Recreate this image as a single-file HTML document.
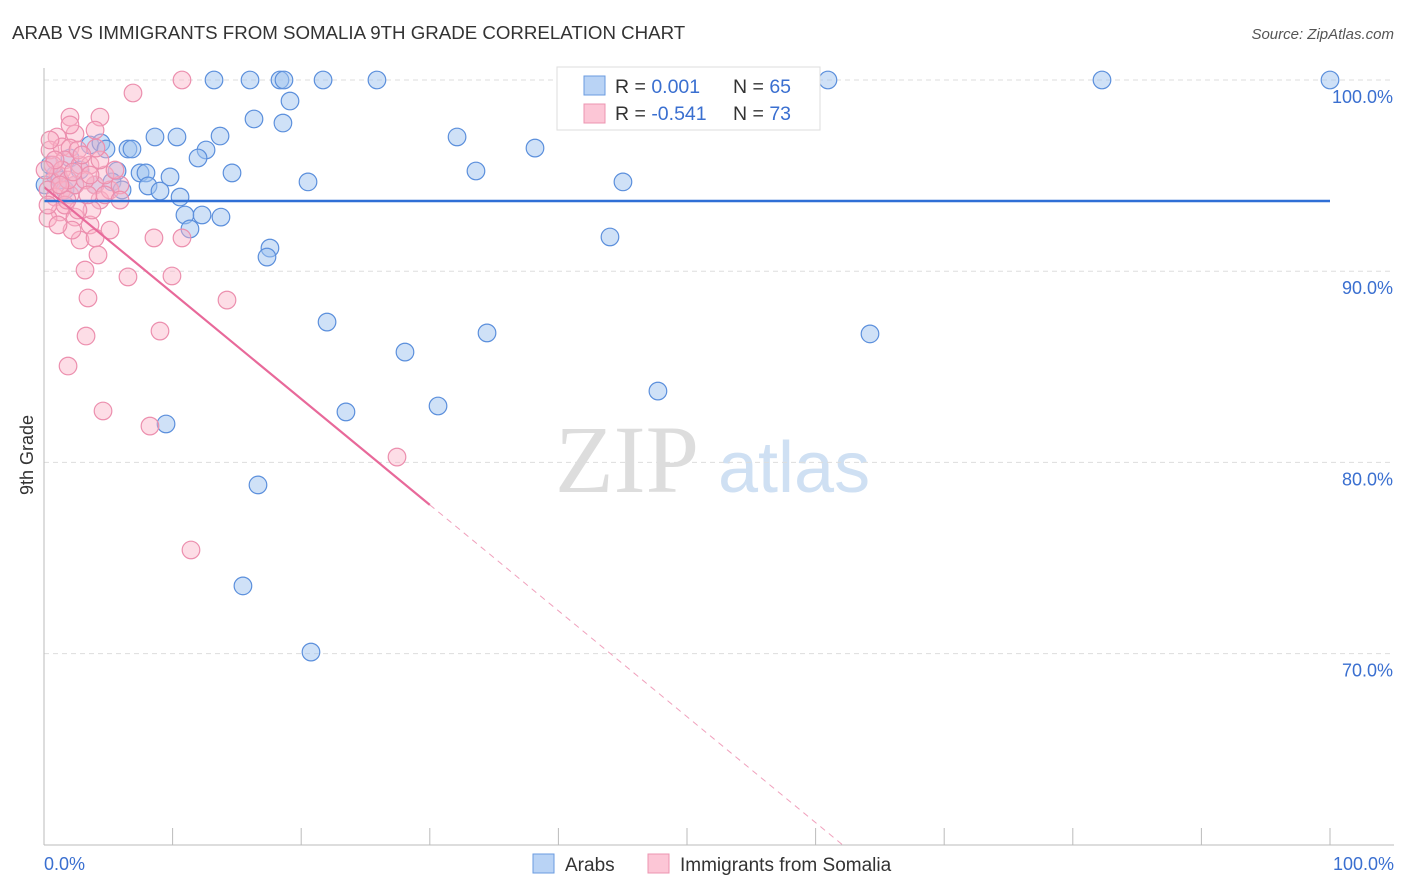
<!DOCTYPE html>
<html><head><meta charset="utf-8"><style>
body{margin:0;background:#fff;font-family:"Liberation Sans",sans-serif;}
svg{display:block}
</style></head><body>
<svg id="c" width="1406" height="892">
<text x="12" y="39" font-size="18.7" fill="#333">ARAB VS IMMIGRANTS FROM SOMALIA 9TH GRADE CORRELATION CHART</text>
<text x="1394" y="39" font-size="15" fill="#555" font-style="italic" text-anchor="end">Source: ZipAtlas.com</text>
<text x="33" y="455" font-size="18" fill="#333" transform="rotate(-90 33 455)" text-anchor="middle">9th Grade</text>
<text x="555" y="492" font-size="96" fill="#ddd" font-family="Liberation Serif">ZIP</text>
<text x="718" y="492" font-size="72" fill="#cfe0f3">atlas</text>
<g id="grid"></g><g id="pts"></g><g id="trend"></g>
<line x1="44" y1="68" x2="44" y2="845" stroke="#bbb"/>
<line x1="44" y1="845" x2="1394" y2="845" stroke="#bbb"/>
<text x="44" y="870" font-size="18" fill="#3a6fd0">0.0%</text>
<text x="1394" y="870" font-size="18" fill="#3a6fd0" text-anchor="end">100.0%</text>
<g>
<rect x="557" y="67" width="263" height="63" fill="#fff" stroke="#ddd"/>
<rect x="584" y="76" width="21" height="19" fill="#b9d3f5" stroke="#6a9be0"/>
<rect x="584" y="104" width="21" height="19" fill="#fcc6d6" stroke="#ec94b0"/>
<text x="615" y="93" font-size="19.5" fill="#333">R = <tspan fill="#3a6fd0">0.001</tspan><tspan x="733">N = </tspan><tspan fill="#3a6fd0">65</tspan></text>
<text x="615" y="120" font-size="19.5" fill="#333">R = <tspan fill="#3a6fd0">-0.541</tspan><tspan x="733">N = </tspan><tspan fill="#3a6fd0">73</tspan></text>
</g>
<g>
<rect x="533" y="854" width="21" height="19" fill="#b9d3f5" stroke="#6a9be0"/>
<text x="565" y="871" font-size="19" fill="#333">Arabs</text>
<rect x="648" y="854" width="21" height="19" fill="#fcc6d6" stroke="#ec94b0"/>
<text x="680" y="871" font-size="19" fill="#333">Immigrants from Somalia</text>
</g>
</svg>
<script>
const yTicks=[100,90,80,70];
const xTicks=[0,10,20,30,40,50,60,70,80,90,100];
const arabPx=[[214,80],[250,80],[280,80],[284,80],[323,80],[377,80],[650,80],[828,80],[1102,80],[1330,80],[290,101],[254,119],[283,123],[155,137],[177,137],[220,136],[457,137],[535,148],[90,145],[101,143],[106,149],[128,149],[132,149],[206,150],[198,158],[70,158],[232,173],[140,173],[146,173],[170,177],[117,171],[476,171],[308,182],[623,182],[112,182],[148,186],[122,190],[160,191],[180,197],[55,175],[60,180],[50,165],[185,215],[202,215],[221,217],[190,229],[270,248],[267,257],[610,237],[327,322],[487,333],[870,334],[405,352],[658,391],[438,406],[346,412],[166,424],[258,485],[243,586],[311,652],[65,190],[75,185],[95,185],[80,170],[45,185]];
const somPx=[[182,80],[133,93],[70,117],[100,117],[57,137],[75,134],[50,150],[62,147],[70,148],[65,160],[80,165],[90,165],[58,175],[52,182],[48,190],[55,197],[62,190],[70,195],[75,185],[95,185],[100,200],[60,212],[75,217],[90,225],[80,240],[95,238],[110,230],[48,218],[85,270],[98,255],[128,277],[154,238],[182,238],[172,276],[88,298],[227,300],[86,336],[160,331],[68,366],[103,411],[150,426],[397,457],[191,550],[110,190],[120,185],[72,230],[65,205],[53,165],[85,180],[92,210],[105,175],[62,170],[78,150],[55,160],[45,170],[68,180],[88,195],[100,160],[115,170],[58,225],[78,210],[50,140],[96,148],[67,200],[82,155],[73,172],[60,185],[90,175],[105,195],[120,200],[70,125],[95,130],[48,205]];
// convert read positions into data values (percent)
const arabX=arabPx.map(p=>+((p[0]-44)/12.86).toFixed(2));
const arabY=arabPx.map(p=>+(100-(p[1]-80)/19.12).toFixed(2));
const somX=somPx.map(p=>+((p[0]-44)/12.86).toFixed(2));
const somY=somPx.map(p=>+(100-(p[1]-80)/19.12).toFixed(2));
const arabTrend=[93.67,93.67];
const somTrend=[94.4,39.0];
const X=v=>44+v*12.86, Y=v=>80+(100-v)*19.12;
const NS="http://www.w3.org/2000/svg";
function mk(t,a,parent){const e=document.createElementNS(NS,t);for(const k in a)e.setAttribute(k,a[k]);parent.appendChild(e);return e;}
const g=document.getElementById('grid');
yTicks.forEach(v=>{
 const l=mk('line',{x1:44,x2:1394,y1:Y(v),y2:Y(v),stroke:'#ddd','stroke-dasharray':'5,4'},g);
 
 
 const t=mk('text',{x:1393,y:Y(v)+23,'font-size':18,fill:'#3a6fd0','text-anchor':'end'},g);
 t.textContent=v.toFixed(1)+'%';
 
 
});
xTicks.forEach(v=>{
 const l=mk('line',{x1:X(v),x2:X(v),y1:828,y2:845,stroke:'#bbb'},g);
 
 
});
const p=document.getElementById('pts');
arabX.forEach((x,i)=>{
 const c=mk('circle',{cx:X(x),cy:Y(arabY[i]),r:8.8,fill:'rgba(160,196,240,0.5)',stroke:'#5b8fdc','stroke-width':1.2},p);
 
 
});
somX.forEach((x,i)=>{
 const c=mk('circle',{cx:X(x),cy:Y(somY[i]),r:8.8,fill:'rgba(250,180,200,0.45)',stroke:'#ec8fae','stroke-width':1.2},p);
 
 
});
const tg=document.getElementById('trend');
const a=mk('line',{x1:X(0),x2:X(100),y1:Y(arabTrend[0]),y2:Y(arabTrend[1]),stroke:'#2f6fd6','stroke-width':2.5},tg);


const sl=x=>somTrend[0]+(somTrend[1]-somTrend[0])*x/100;
const s1=mk('line',{x1:X(0),x2:X(30),y1:Y(sl(0)),y2:Y(sl(30)),stroke:'#e8699a','stroke-width':2.2},tg);


const xe=(somTrend[0]-60)/(somTrend[0]-somTrend[1])*100;
const s2=mk('line',{x1:X(30),x2:X(xe),y1:Y(sl(30)),y2:Y(60),stroke:'#f0a0bc','stroke-width':1,'stroke-dasharray':'6,5'},tg);


</script>
</body></html>
